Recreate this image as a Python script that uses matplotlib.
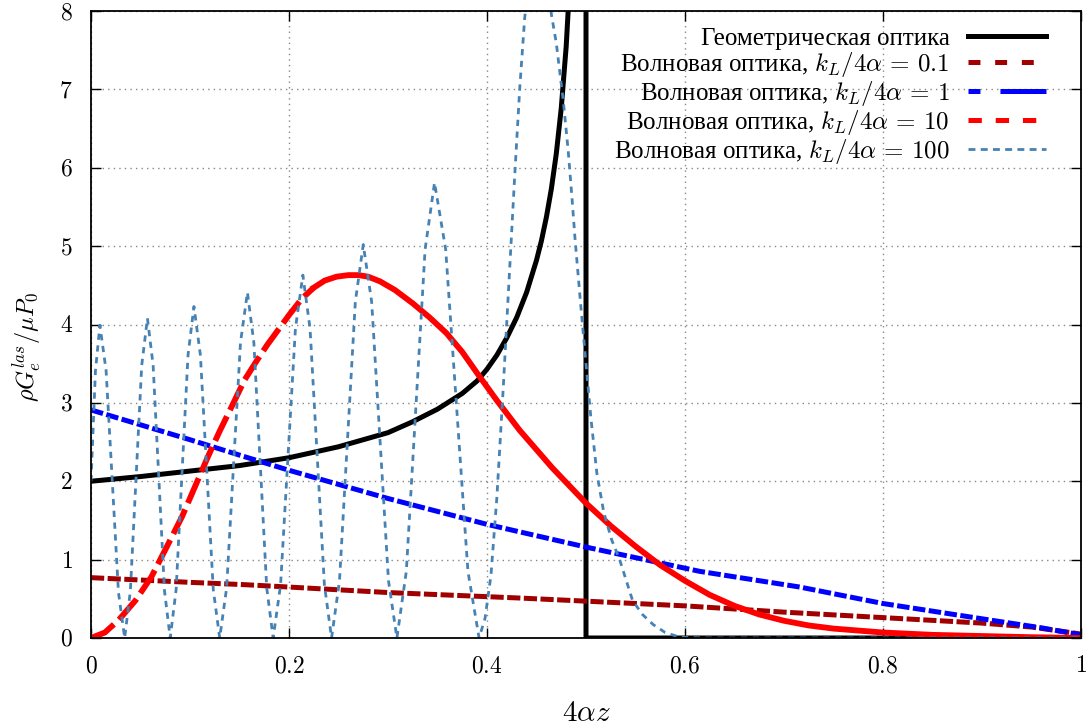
import matplotlib
matplotlib.use("Agg")
import matplotlib.pyplot as plt
from matplotlib.lines import Line2D
from matplotlib.ticker import FuncFormatter

plt.rcParams['font.family'] = ['Liberation Serif', 'DejaVu Serif']
plt.rcParams['mathtext.fontset'] = 'cm'
plt.rcParams['lines.scale_dashes'] = False

# geometric optics
x_geo = [0.0, 0.05, 0.1, 0.15, 0.2, 0.25, 0.3, 0.325, 0.35, 0.375, 0.39, 0.40,
         0.41, 0.42, 0.43, 0.44, 0.45, 0.455, 0.46, 0.465, 0.47, 0.475, 0.48,
         0.485, 0.5, 0.5, 1.0]
y_geo = [2.0, 2.06, 2.13, 2.2, 2.3, 2.44, 2.62, 2.76, 2.92, 3.12, 3.28, 3.43,
         3.61, 3.83, 4.09, 4.41, 4.82, 5.07, 5.37, 5.73, 6.18, 6.76, 7.55,
         8.69, 14.0, 0.0, 0.0]

# wave optics, k_L/4alpha = 0.1
x_k01 = [0.0, 0.1, 0.156, 0.2, 0.3, 0.433, 0.5, 0.6, 0.7, 0.8, 0.9, 0.95, 1.0]
y_k01 = [0.77, 0.71, 0.68, 0.65, 0.58, 0.51, 0.47, 0.41, 0.33, 0.26, 0.19, 0.14, 0.05]

# wave optics, k_L/4alpha = 1
x_k1 = [0.0, 0.05, 0.1, 0.156, 0.2, 0.3, 0.4, 0.5, 0.615, 0.716, 0.8, 0.918, 0.96, 1.0]
y_k1 = [2.91, 2.72, 2.53, 2.31, 2.14, 1.78, 1.45, 1.16, 0.85, 0.65, 0.44, 0.21, 0.13, 0.04]

# wave optics, k_L/4alpha = 10
x_k10 = [0.0, 0.014, 0.028, 0.045, 0.061, 0.076, 0.092, 0.105, 0.118, 0.130, 0.142,
         0.155, 0.166, 0.178, 0.189, 0.200, 0.213, 0.225, 0.236, 0.248, 0.260,
         0.270, 0.280, 0.292, 0.307, 0.325, 0.342, 0.359, 0.375, 0.390, 0.410,
         0.433, 0.466, 0.5, 0.525, 0.55, 0.575, 0.6, 0.625, 0.65, 0.675, 0.7,
         0.725, 0.75, 0.8, 0.85, 0.9, 0.95, 1.0]
y_k10 = [0.0, 0.07, 0.23, 0.48, 0.78, 1.15, 1.55, 1.93, 2.31, 2.64, 2.95,
         3.29, 3.51, 3.74, 3.93, 4.12, 4.33, 4.47, 4.56, 4.61, 4.63,
         4.63, 4.61, 4.55, 4.44, 4.27, 4.09, 3.89, 3.65, 3.38, 3.03,
         2.65, 2.17, 1.72, 1.43, 1.17, 0.93, 0.73, 0.55, 0.41, 0.30, 0.22,
         0.16, 0.12, 0.07, 0.04, 0.025, 0.01, 0.0]
split_k10 = 0.215  # dashes visible only on the steep rising part

# wave optics, k_L/4alpha = 100
x_k100 = [0.0, 0.0045, 0.009, 0.01525, 0.0215, 0.02775, 0.034,
          0.03975, 0.0455, 0.05125, 0.057, 0.06275, 0.0685, 0.07425, 0.080,
          0.086, 0.092, 0.098, 0.104, 0.1105, 0.117, 0.1235, 0.130,
          0.137, 0.144, 0.151, 0.158, 0.1645, 0.171, 0.1775, 0.184,
          0.1915, 0.199, 0.2065, 0.214, 0.22125, 0.2285, 0.23575, 0.243,
          0.251, 0.259, 0.267, 0.275, 0.2835, 0.292, 0.3005, 0.309,
          0.3185, 0.328, 0.3375, 0.347, 0.35825, 0.3695, 0.38075, 0.392,
          0.398, 0.404, 0.410, 0.416, 0.422, 0.428, 0.433, 0.438, 0.444,
          0.452, 0.459, 0.465, 0.470, 0.477, 0.482, 0.486, 0.489, 0.495,
          0.500, 0.505, 0.511, 0.518, 0.526, 0.534, 0.547, 0.557, 0.568,
          0.580, 0.595, 0.62, 1.0]
y_k100 = [2.0, 3.41, 3.99, 3.41, 2.0, 0.58, 0.0,
          0.60, 2.04, 3.48, 4.08, 3.48, 2.04, 0.60, 0.0,
          0.62, 2.12, 3.61, 4.23, 3.61, 2.12, 0.62, 0.0,
          0.64, 2.21, 3.77, 4.41, 3.77, 2.21, 0.64, 0.0,
          0.68, 2.32, 3.95, 4.63, 3.95, 2.32, 0.68, 0.0,
          0.73, 2.51, 4.29, 5.02, 4.29, 2.51, 0.73, 0.0,
          0.85, 2.91, 4.96, 5.81, 4.96, 2.91, 0.85, 0.0,
          0.25, 0.8, 1.8, 3.1, 4.5, 5.9, 7.0, 7.9, 8.6,
          8.9, 8.6, 7.96, 7.59, 6.86, 6.22, 5.59, 5.08, 4.2,
          3.5, 2.8, 2.1, 1.6, 1.25, 1.0, 0.48, 0.3, 0.17,
          0.07, 0.01, 0.0, 0.0]

labels = ['Геометрическая оптика',
          r'Волновая оптика, $k_L/4\alpha\,=\,0.1$',
          r'Волновая оптика, $k_L/4\alpha\,=\,1$',
          r'Волновая оптика, $k_L/4\alpha\,=\,10$',
          r'Волновая оптика, $k_L/4\alpha\,=\,100$']
colors = ['black', '#a00000', '#0000ff', '#ff0000', '#4682b4']

fig = plt.figure(figsize=(10.89, 7.28), dpi=100)
ax = fig.add_axes([91 / 1089, 90 / 728, 990 / 1089, 627 / 728])

ax.plot(x_geo, y_geo, color=colors[0], lw=3.6, solid_joinstyle='round')
ax.plot(x_k01, y_k01, color=colors[1], lw=3.6, dashes=(9.5, 2.5))
ax.plot(x_k1, y_k1, color=colors[2], lw=3.6, dashes=(9, 2.5))
i = sum(1 for v in x_k10 if v <= split_k10)
ax.plot(x_k10[:i + 1], y_k10[:i + 1], color=colors[3], lw=4.2, dashes=(19.5, 5))
ax.plot(x_k10[i:], y_k10[i:], color=colors[3], lw=4.2, solid_joinstyle='round')
ax.plot(x_k100, y_k100, color=colors[4], lw=2.0, dashes=(4.5, 4))

ax.set_xlim(0, 1)
ax.set_ylim(0, 8)
ax.set_xticks([0, 0.2, 0.4, 0.6, 0.8, 1.0])
ax.set_yticks(range(9))
fmt = FuncFormatter(lambda v, p: '$%g$' % v)
ax.xaxis.set_major_formatter(fmt)
ax.yaxis.set_major_formatter(fmt)
ax.tick_params(direction='in', length=7, width=1, top=True, right=True,
               labelsize=17, pad=13)
ax.grid(True, color='#888888', lw=1, linestyle=(0, (1, 3)))
for s in ax.spines.values():
    s.set_linewidth(1.3)

ax.set_xlabel(r'$4\alpha z$', fontsize=21, labelpad=17)
ax.set_ylabel(r'$\rho G_e^{las}/\mu P_0$', fontsize=17.5)
ax.yaxis.set_label_coords(-0.047, 0.464)

handles = [
    Line2D([], [], color=colors[0], lw=3.6),
    Line2D([], [], color=colors[1], lw=3.6, dashes=(8.6, 10.6)),
    Line2D([], [], color=colors[2], lw=3.6, dashes=(8.6, 14.4, 34, 2)),
    Line2D([], [], color=colors[3], lw=3.6, dashes=(9.6, 10)),
    Line2D([], [], color=colors[4], lw=2.0, dashes=(5, 3.8)),
]
ax.legend(handles, labels, loc='upper right', bbox_to_anchor=(0.9646, 0.974),
          frameon=False, fontsize=18, markerfirst=False, handlelength=3.1,
          handletextpad=0.76, borderpad=0, borderaxespad=0, labelspacing=0.0)

fig.savefig('out.png', dpi=100)
